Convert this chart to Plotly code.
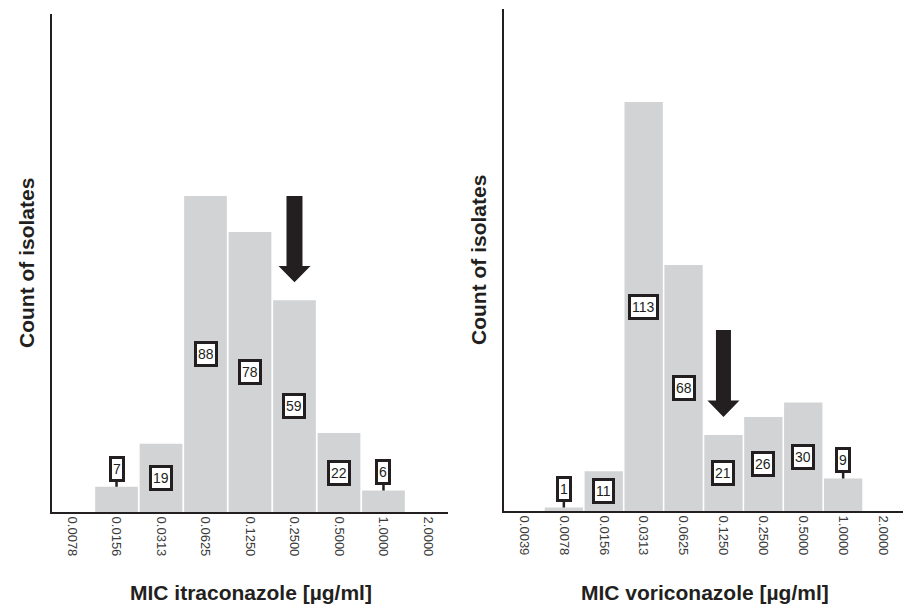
import plotly.graph_objects as go

# ---- data ----
itra_mic = ["0.0078", "0.0156", "0.0313", "0.0625", "0.1250", "0.2500", "0.5000", "1.0000", "2.0000"]
itra_counts = [0, 7, 19, 88, 78, 59, 22, 6, 0]
vori_mic = ["0.0039", "0.0078", "0.0156", "0.0313", "0.0625", "0.1250", "0.2500", "0.5000", "1.0000", "2.0000"]
vori_counts = [0, 1, 11, 113, 68, 21, 26, 30, 9, 0]

# breakpoint arrows (category, arrow top value, arrow tip value)
itra_arrow_mic = "0.2500"
itra_arrow_top = 88
itra_arrow_tip = 64
vori_arrow_mic = "0.1250"
vori_arrow_top = 50
vori_arrow_tip = 26

itra_title = "MIC itraconazole [µg/ml]"
vori_title = "MIC voriconazole [µg/ml]"
y_title = "Count of isolates"

# ---- style ----
W, H = 903, 604
FONT = "Arial, Liberation Sans, sans-serif"
INK = "#231f20"
BAR = "#d1d3d4"
Y_MAX = 138.7

fig = go.Figure()

fig.add_trace(go.Bar(x=itra_mic, y=itra_counts, xaxis="x", yaxis="y",
                     marker=dict(color=BAR, line=dict(width=0)), hoverinfo="x+y"))
fig.add_trace(go.Bar(x=vori_mic, y=vori_counts, xaxis="x2", yaxis="y2",
                     marker=dict(color=BAR, line=dict(width=0)), hoverinfo="x+y"))

annotations = []
shapes = []

def add_labels(cats, vals, xref, yref):
    for i, (c, v) in enumerate(zip(cats, vals)):
        if v <= 0:
            continue
        common = dict(xref=xref, yref=yref, text=str(v),
                      font=dict(family=FONT, size=14, color=INK), height=18,
                      bgcolor="white", bordercolor=INK, borderwidth=3, borderpad=1)
        if v < 10:
            annotations.append(dict(x=i, y=v, showarrow=True, arrowhead=0,
                                    arrowwidth=2.5, arrowcolor=INK, ax=0, ay=-18,
                                    standoff=0, **common))
        else:
            annotations.append(dict(x=i, y=v / 2, showarrow=False, **common))

add_labels(itra_mic, itra_counts, "x", "y")
add_labels(vori_mic, vori_counts, "x2", "y2")

def add_arrow(cats, cat, top, tip, xref, yref, shaft=8, head=16, head_len=4.5):
    idx = cats.index(cat)
    hb = tip + head_len
    path = (f"M {-shaft},{top} L {shaft},{top} L {shaft},{hb} L {head},{hb} "
            f"L 0,{tip} L {-head},{hb} L {-shaft},{hb} Z")
    shapes.append(dict(type="path", xref=xref, yref=yref, xsizemode="pixel",
                       xanchor=idx, path=path, fillcolor=INK, line=dict(width=0)))

add_arrow(itra_mic, itra_arrow_mic, itra_arrow_top, itra_arrow_tip, "x", "y")
add_arrow(vori_mic, vori_arrow_mic, vori_arrow_top, vori_arrow_tip, "x2", "y2",
          shaft=7.5, head=16)

# axis titles
tfont = dict(family=FONT, size=21, color=INK)
annotations += [
    dict(xref="paper", yref="paper", x=251 / W, y=1 - 592 / H, text=f"<b>{itra_title}</b>",
         xanchor="center", yanchor="middle", showarrow=False, font=tfont),
    dict(xref="paper", yref="paper", x=705 / W, y=1 - 592 / H, text=f"<b>{vori_title}</b>",
         xanchor="center", yanchor="middle", showarrow=False, font=tfont),
    dict(xref="paper", yref="paper", x=26 / W, y=1 - 263 / H, text=f"<b>{y_title}</b>",
         xanchor="center", yanchor="middle", textangle=-90, showarrow=False, font=tfont),
    dict(xref="paper", yref="paper", x=478 / W, y=1 - 260 / H, text=f"<b>{y_title}</b>",
         xanchor="center", yanchor="middle", textangle=-90, showarrow=False, font=tfont),
]

xcommon = dict(type="category", showline=True, linecolor=INK, linewidth=2,
               showgrid=False, zeroline=False, ticks="", tickangle=90,
               tickfont=dict(family=FONT, size=13, color="#3a3a3a"), fixedrange=True)
ycommon = dict(showline=True, linecolor=INK, linewidth=2, showgrid=False,
               zeroline=False, showticklabels=False, ticks="", range=[0, Y_MAX],
               fixedrange=True)

fig.update_layout(
    width=W, height=H,
    margin=dict(l=0, r=0, t=0, b=0),
    paper_bgcolor="white", plot_bgcolor="white",
    showlegend=False, bargap=0.04,
    xaxis=dict(domain=[52 / W, 448 / W], range=[-0.45, 8.45], anchor="y", **xcommon),
    yaxis=dict(domain=[1 - 512 / H, 1 - 14 / H], anchor="x", **ycommon),
    xaxis2=dict(domain=[504 / W, 1.0], range=[-0.5, 9.5], anchor="y2", **xcommon),
    yaxis2=dict(domain=[1 - 511 / H, 1 - 9 / H], anchor="x2", **ycommon),
    annotations=annotations,
    shapes=shapes,
)

fig.write_html("out.html", config={"displayModeBar": False},
               post_script="document.body.style.margin='0';")
